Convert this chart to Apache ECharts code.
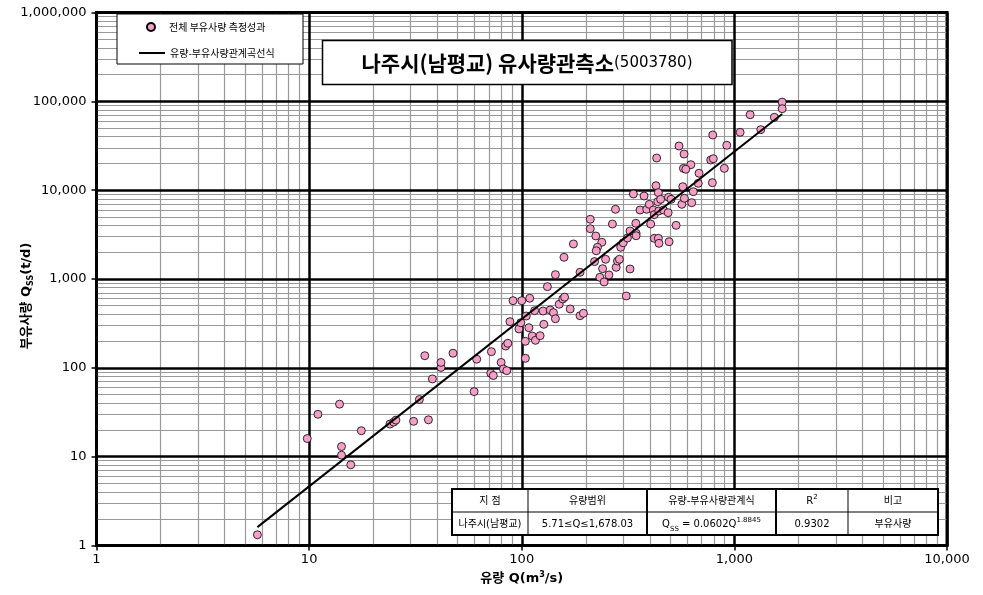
<!DOCTYPE html>
<html><head><meta charset="utf-8">
<script src="https://cdn.jsdelivr.net/npm/echarts@6/dist/echarts.min.js"></script>
<style>html,body{margin:0;padding:0;background:#fff;} #c{width:983px;height:595px;}</style>
</head><body><div id="c"></div>
<script>
// ---- data ----
const flowQ = [
  5.71, 9.8, 11, 13.9, 14.2, 14.2, 15.7, 17.6, 24, 25, 25.6, 31, 36.4, 33, 38, 41.7, 41.7, 35, 47.5, 59.7,
  61.4, 72, 71.5, 73.5, 80, 82, 85, 84, 86, 88, 91, 100, 109, 97, 99, 105, 108, 104, 104, 112,
  116, 122, 127, 115, 126, 136, 141, 144, 132, 144, 150, 156, 159, 169, 188, 195, 188, 220, 158, 175,
  210, 210, 223, 238, 227, 224, 248, 240, 233, 244, 257, 278, 282, 288, 323, 310, 267, 276, 292, 300,
  314, 323, 345, 345, 344, 335, 360, 376, 387, 398, 404, 416, 420, 428, 439, 436, 450, 441, 420, 439,
  442, 464, 488, 490, 504, 493, 532, 566, 572, 582, 630, 641, 676, 791, 921, 549, 580, 431, 774, 796,
  624, 576, 591, 682, 897, 788, 1678, 1678, 1542, 1186, 1331, 1064
];
const sedimentQss = [
  1.32, 16, 30, 39, 13, 10.4, 8.1, 19.6, 23.3, 24.5, 25.8, 25, 26, 44, 75, 101, 115, 137, 146, 54,
  125, 152, 87, 82, 115, 97, 93, 176, 189, 331, 570, 570, 607, 274, 322, 383, 283, 199, 128, 228,
  204, 230, 309, 440, 436, 448, 418, 357, 820, 1120, 520, 596, 625, 460, 386, 411, 1190, 1570, 1756, 2480,
  4700, 3680, 3050, 2590, 2275, 2080, 1667, 1306, 1045, 925, 1110, 1354, 1595, 1667, 1296, 644, 4160, 6090, 2275, 2560,
  2895, 3470, 3270, 3070, 4240, 9060, 5980, 8600, 6090, 6930, 4160, 5980, 5300, 11230, 9370, 7420, 7890, 5830, 2870, 2870,
  2520, 5980, 5580, 8310, 7890, 2630, 4020, 6930, 10940, 8100, 7230, 9610, 11950, 41800, 32000, 31400, 25500, 23000, 21870, 22600,
  19360, 17600, 17200, 15500, 17600, 12140, 98000, 82600, 66100, 70700, 48000, 44800
];
const fitQ = [5.71, 1678.03];
const fitQss = [1.61, 71900];
const xDecades = [1, 10, 100, 1000, 10000];
const yDecades = [1, 10, 100, 1000, 10000, 100000, 1000000];
const minorSteps = [2, 3, 4, 5, 6, 7, 8, 9];
const titleMain = '나주시(남평교) 유사량관측소';
const titleCode = '(5003780)';
const seriesNames = ['전체 부유사량 측정성과', '유량-부유사량관계곡선식'];
const tableHeader = ['지 점', '유량범위', '유량-부유사량관계식', '{n|R}{sup|2}', '비고'];
const tableRow = ['나주시(남평교)', '5.71≤Q≤1,678.03', '{n|Q}{sub|SS}{n| = 0.0602Q}{sup|1.8845}', '0.9302', '부유사량'];
const xTitle = '{t|유량 Q(m}{sup|3}{t|/s)}';
const yTitle = '{t|부유사량 Q}{sub|SS}{t|(t/d)}';

// ---- layout ----
const FL = '"DejaVu Sans", "Noto Sans CJK KR", sans-serif';
const FK = '"Noto Sans CJK KR", sans-serif';
const G = {left: 96.5, top: 12.5, right: 947, bottom: 545.5};

const points = flowQ.map((q, i) => [q, sedimentQss[i]]);
const fitLine = fitQ.map((q, i) => [q, fitQss[i]]);

function minorOf(decades) {
  const out = [];
  for (let i = 0; i < decades.length - 1; i++) minorSteps.forEach(m => out.push(m * decades[i]));
  return out;
}
const minorLines = [].concat(
  minorOf(xDecades).map(v => ({xAxis: v})),
  minorOf(yDecades).map(v => ({yAxis: v}))
);
const majorLines = [].concat(
  xDecades.map(v => ({xAxis: v})),
  yDecades.map(v => ({yAxis: v}))
);

const fmt = v => Math.round(v).toLocaleString('en-US');

// table graphics
const colX = [452, 528, 647, 776, 848, 938];
const colW = [1, 2, 2, 1];
const tTop = 489, tMid = 512, tBot = 535;
const richCell = {
  n: {fontSize: 10, fontFamily: FL, color: '#000'},
  sub: {fontSize: 7, fontFamily: FL, color: '#000', verticalAlign: 'bottom', lineHeight: 8},
  sup: {fontSize: 7, fontFamily: FL, color: '#000', verticalAlign: 'top', lineHeight: 8}
};
const tableEls = [
  {type: 'rect', z: 100, shape: {x: colX[0], y: tTop, width: colX[5] - colX[0], height: tBot - tTop}, style: {fill: '#fff', stroke: '#000', lineWidth: 2}},
  {type: 'line', z: 101, shape: {x1: colX[0], y1: tMid, x2: colX[5], y2: tMid}, style: {stroke: '#000', lineWidth: 1}}
];
for (let i = 1; i < 5; i++) {
  tableEls.push({type: 'line', z: 101, shape: {x1: colX[i], y1: tTop, x2: colX[i], y2: tBot}, style: {stroke: '#000', lineWidth: colW[i - 1]}});
}
[tableHeader, tableRow].forEach((row, r) => {
  row.forEach((txt, c) => {
    tableEls.push({
      type: 'text', z: 102,
      x: (colX[c] + colX[c + 1]) / 2, y: r === 0 ? (tTop + tMid) / 2 + 1 : (tMid + tBot) / 2 + 1,
      style: {text: txt, fontSize: 10, fontFamily: FL, fill: '#000', align: 'center', verticalAlign: 'middle', rich: richCell, lineHeight: 16}
    });
  });
});

const chart = echarts.init(document.getElementById('c'), null, {renderer: 'canvas'});
chart.setOption({
  animation: false,
  backgroundColor: '#fff',
  grid: {left: G.left, top: G.top, width: G.right - G.left, height: G.bottom - G.top, show: true, borderColor: '#000', borderWidth: 3, backgroundColor: '#fff',
         containLabel: false, outerBoundsMode: 'none'},
  xAxis: {
    type: 'log', logBase: 10, min: 1, max: 10000,
    axisLine: {show: true, lineStyle: {color: '#000', width: 3}},
    axisTick: {show: true, length: 5, lineStyle: {color: '#000', width: 1.5}},
    splitLine: {show: false},
    axisLabel: {formatter: fmt, color: '#000', fontSize: 13, fontFamily: FL, margin: 8},
    name: xTitle, nameLocation: 'middle', nameGap: 25, nameMoveOverlap: false,
    nameTextStyle: {rich: {
      t: {fontSize: 13, fontWeight: 'bold', fontFamily: FL, color: '#000', lineHeight: 16},
      sup: {fontSize: 8, fontWeight: 'bold', fontFamily: FL, color: '#000', verticalAlign: 'top', lineHeight: 9}
    }}
  },
  yAxis: {
    type: 'log', logBase: 10, min: 1, max: 1000000,
    axisLine: {show: true, lineStyle: {color: '#000', width: 3}},
    axisTick: {show: true, length: 5, lineStyle: {color: '#000', width: 1.5}},
    splitLine: {show: false},
    axisLabel: {formatter: fmt, color: '#000', fontSize: 13, fontFamily: FL, margin: 10},
    name: yTitle, nameLocation: 'middle', nameGap: 62, nameMoveOverlap: false,
    nameTextStyle: {padding: [0, 34, 0, 0], rich: {
      t: {fontSize: 13, fontWeight: 'bold', fontFamily: FL, color: '#000', lineHeight: 16},
      sub: {fontSize: 8, fontWeight: 'bold', fontFamily: FL, color: '#000', verticalAlign: 'bottom', lineHeight: 9}
    }}
  },
  legend: [
    {data: [seriesNames[0]], left: 146, top: 22, orient: 'vertical', itemWidth: 26, itemHeight: 8, padding: 0, z: 110, selectedMode: false,
     textStyle: {fontSize: 10, fontFamily: FK, color: '#000'}},
    {data: [{name: seriesNames[1], icon: 'rect', itemStyle: {color: '#000'}}], left: 139, top: 48, orient: 'vertical', itemWidth: 26, itemHeight: 2, padding: 0, z: 110, selectedMode: false,
     textStyle: {fontSize: 10, fontFamily: FK, color: '#000'}}
  ],
  graphic: [
    {type: 'rect', z: 100, shape: {x: 117, y: 14, width: 186, height: 50}, style: {fill: '#fff', stroke: '#000', lineWidth: 1}},
    {type: 'rect', z: 100, shape: {x: 322.5, y: 40.5, width: 409.5, height: 44}, style: {fill: '#fff', stroke: '#000', lineWidth: 1.5}},
    {type: 'text', z: 101, x: 527, y: 63, style: {
      text: '{a|' + titleMain + '}{b|' + titleCode + '}', align: 'center', verticalAlign: 'middle',
      rich: {a: {fontSize: 21, fontWeight: 'bold', fontFamily: FK, fill: '#000', color: '#000'},
             b: {fontSize: 15, fontFamily: FL, fill: '#000', color: '#000'}}
    }}
  ].concat(tableEls),
  series: [
    {
      name: seriesNames[0], type: 'scatter', z: 3, data: points,
      symbol: 'circle', symbolSize: 8,
      itemStyle: {color: '#f59fc8', borderColor: '#000', borderWidth: 0.8, opacity: 1},
      emphasis: {disabled: true},
      markLine: {silent: true, z: 1, symbol: ['none', 'none'], label: {show: false}, animation: false,
                 lineStyle: {color: '#999', width: 1.2, type: 'solid'}, emphasis: {disabled: true}, data: minorLines}
    },
    {
      name: seriesNames[1], type: 'line', z: 4, data: fitLine, symbol: 'none', showSymbol: false,
      lineStyle: {color: '#000', width: 2}, itemStyle: {color: '#000'},
      emphasis: {disabled: true},
      markLine: {silent: true, z: 2, symbol: ['none', 'none'], label: {show: false}, animation: false,
                 lineStyle: {color: '#000', width: 2.5, type: 'solid'}, emphasis: {disabled: true}, data: majorLines}
    }
  ]
});
</script></body></html>
